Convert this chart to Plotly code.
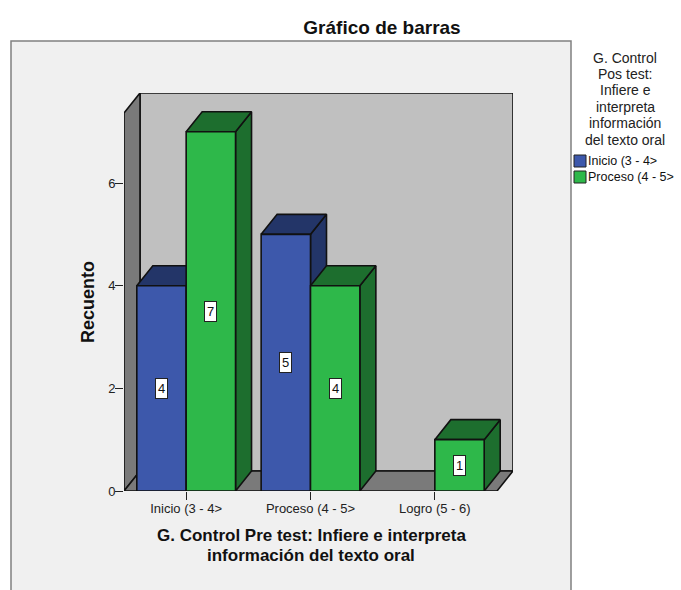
import plotly.graph_objects as go

# ---- data ----
categories = ["Inicio (3 - 4>", "Proceso (4 - 5>", "Logro (5 - 6)"]
inicio = [4, 5, 0]
proceso = [7, 4, 1]
y_ticks = [0, 2, 4, 6]
series_names = ["Inicio (3 - 4>", "Proceso (4 - 5>"]
legend_title_lines = ["G. Control", "Pos test:", "Infiere e", "interpreta", "información", "del texto oral"]
x_title_lines = ["G. Control Pre test: Infiere e interpreta", "información del texto oral"]

# ---- layout geometry (pixels) ----
W, H = 681, 590
L, R, T, B = 124, 513, 93, 491
PX_PER_CAT = 124.33
PX_PER_UNIT = 51.33
DX = 16 / PX_PER_CAT
DY = 20 / PX_PER_UNIT
BAR_W = 0.397
X0, X1 = -0.5, 2.5 + DX
Y0, Y1 = 0, (B - T) / PX_PER_UNIT

BLUE, BLUE_D = "#3d58ab", "#233568"
GREEN, GREEN_D = "#2eb84a", "#1d6e2e"
WALL, FLOOR = "#c0c0c0", "#7a7a7a"
EDGE = "#111111"
FONT = "Liberation Sans, Arial, sans-serif"


def px(x):
    return (x - L) / (R - L)


def py(y):
    return (B - y) / (B - T)


fig = go.Figure()


def poly(xs, ys, fill, name=""):
    fig.add_trace(go.Scatter(
        x=list(xs) + [xs[0]], y=list(ys) + [ys[0]], mode="lines", fill="toself",
        fillcolor=fill, line=dict(color=EDGE, width=1.6), cliponaxis=False,
        showlegend=False, hoverinfo="skip", name=name))


# walls and floor
xl, xr = X0, X1 - DX
poly([xl + DX, X1, X1, xl + DX], [DY, DY, Y1, Y1], WALL, "back wall")
poly([xl, xl + DX, xl + DX, xl], [0, DY, Y1, Y1 - DY], FLOOR, "left wall")
poly([xl, xl + DX, X1, xr], [0, DY, DY, 0], FLOOR, "floor")


def bar3d(left, value, front, dark, name):
    right = left + BAR_W
    poly([right, right + DX, right + DX, right], [0, DY, value + DY, value], dark, name)
    poly([left, left + DX, right + DX, right], [value, value + DY, value + DY, value], dark, name)
    poly([left, right, right, left], [0, 0, value, value], front, name)


labels = []
for i in range(len(categories)):
    if inicio[i] > 0:
        bar3d(i - BAR_W, inicio[i], BLUE, BLUE_D, series_names[0])
        labels.append((i - BAR_W / 2, inicio[i]))
    if proceso[i] > 0:
        bar3d(i, proceso[i], GREEN, GREEN_D, series_names[1])
        labels.append((i + BAR_W / 2, proceso[i]))

annotations = []
for x, v in labels:
    annotations.append(dict(x=x, y=v / 2, xref="x", yref="y", text=str(v), showarrow=False,
                            font=dict(family=FONT, size=13, color="#111111"),
                            bgcolor="white", bordercolor="#222222", borderwidth=1,
                            borderpad=1, width=9, height=17))


def text(x, y, s, size, bold=False, color="#111111", anchor="center", angle=0):
    annotations.append(dict(x=px(x), y=py(y), xref="paper", yref="paper",
                            text=f"<b>{s}</b>" if bold else s, showarrow=False,
                            xanchor=anchor, yanchor="middle", textangle=angle, borderpad=0,
                            font=dict(family=FONT, size=size, color=color)))


for k, s in enumerate(x_title_lines):
    text(311, 535 + 20 * k, s, 17, bold=True)
text(88, 302, "Recuento", 18, bold=True, angle=-90)
for k, s in enumerate(legend_title_lines):
    text(625, 57.5 + 16.4 * k, s, 14, color="#222222")
for k, s in enumerate(series_names):
    text(587, 161 + 16 * k, s, 12.5, color="#111111", anchor="left")

shapes = [dict(type="rect", xref="paper", yref="paper", layer="below",
               x0=px(11), x1=px(571), y0=py(41), y1=py(600),
               fillcolor="#f0f0f0", line=dict(color="#808080", width=1.5))]
for k, c in enumerate([BLUE, GREEN]):
    shapes.append(dict(type="rect", xref="paper", yref="paper",
                       x0=px(574), x1=px(586), y0=py(155 + 16 * k), y1=py(167 + 16 * k),
                       fillcolor=c, line=dict(color="#222222", width=1)))

fig.update_layout(
    width=W, height=H, autosize=False,
    margin=dict(l=L, r=W - R, t=T, b=H - B, pad=0),
    paper_bgcolor="white", plot_bgcolor="rgba(0,0,0,0)",
    showlegend=False,
    title=dict(text="<b>Gráfico de barras</b>", x=382 / W, y=1 - 27 / H, xref="container",
               xanchor="center", yanchor="middle", font=dict(family=FONT, size=19, color="#111111")),
    xaxis=dict(range=[X0, X1], tickmode="array", tickvals=list(range(len(categories))),
               ticktext=categories, ticks="outside", ticklen=8, tickcolor="#222222", tickwidth=1.2,
               showgrid=False, zeroline=False, showline=False, ticklabelstandoff=-3,
               tickfont=dict(family=FONT, size=13, color="#222222")),
    yaxis=dict(range=[Y0, Y1], tickmode="array", tickvals=y_ticks,
               ticks="outside", ticklen=8, tickcolor="#222222", tickwidth=1.2,
               showgrid=False, zeroline=False, showline=False, ticklabelstandoff=-3,
               tickfont=dict(family=FONT, size=13, color="#222222")),
    annotations=annotations, shapes=shapes,
)
fig.write_html("out.html", config={"displayModeBar": False},
               post_script="document.body.style.margin='0';document.body.style.overflow='hidden';")
